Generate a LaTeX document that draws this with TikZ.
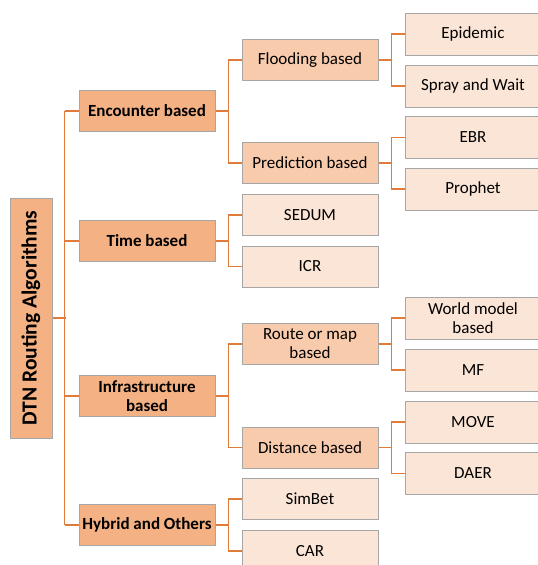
\documentclass[tikz,border=0pt]{standalone}
\usepackage{fontspec}
\setmainfont{Carlito}
\definecolor{lone}{HTML}{F4B183}
\definecolor{ltwo}{HTML}{F8CBAD}
\definecolor{lthree}{HTML}{FBE5D6}
\definecolor{bord}{HTML}{A6A6A6}
\definecolor{link}{HTML}{E07B39}
\begin{document}
\begin{tikzpicture}[x=1pt,y=-1pt,
  box/.style={draw=bord, line width=1pt, inner sep=2pt, align=center, text=black,
    font=\fontsize{17}{19}\selectfont},
  rootbox/.style={box, fill=lone, minimum width=240pt, minimum height=42pt, rotate=90,
    font=\fontsize{21.5}{23}\bfseries\selectfont},
  lonebox/.style={box, fill=lone, minimum width=136pt, minimum height=41pt,
    font=\fontsize{17}{19}\bfseries\selectfont},
  ltwobox/.style={box, fill=ltwo, minimum width=136pt, minimum height=41pt},
  lleaf/.style={box, fill=lthree, minimum width=136pt, minimum height=41pt},
  lthreebox/.style={box, fill=lthree, minimum width=136pt, minimum height=42pt},
  conn/.style={draw=link, line width=1.1pt}]
\useasboundingbox (0,0) rectangle (538,565);
\fill[white] (0,0) rectangle (538,565);
% root
\node[rootbox] (root) at (31,318) {DTN Routing Algorithms};
% level 1
\node[lonebox] (enc) at (147,111) {Encounter based};
\node[lonebox] (time) at (147,241) {Time based};
\node[lonebox] (infra) at (147,396) {Infrastructure\\based};
\node[lonebox] (hyb) at (147,525) {Hybrid and Others};
% level 2
\node[ltwobox] (flood) at (310,60) {Flooding based};
\node[ltwobox] (pred) at (310,163) {Prediction based};
\node[lleaf] (sedum) at (310,215) {SEDUM};
\node[lleaf] (icr) at (310,266.5) {ICR};
\node[ltwobox] (route) at (310,344) {Route or map\\based};
\node[ltwobox] (dist) at (310,447.5) {Distance based};
\node[lleaf] (simbet) at (310,499) {SimBet};
\node[lleaf] (car) at (310,551) {CAR};
% level 3
\node[lthreebox] (epi) at (473,34) {Epidemic};
\node[lthreebox] (spray) at (473,86) {Spray and Wait};
\node[lthreebox] (ebr) at (473,137.5) {EBR};
\node[lthreebox] (prophet) at (473,189) {Prophet};
\node[lthreebox] (world) at (473,318) {World model\\based};
\node[lthreebox] (mf) at (473,370) {MF};
\node[lthreebox] (move) at (473,422) {MOVE};
\node[lthreebox] (daer) at (473,473.5) {DAER};
% connectors root -> level 1
\draw[conn] (root.south) -- +(13,0);
\foreach \c in {enc,time,infra,hyb}
  \draw[conn] (\c.west) -- +(-14,0);
\draw[conn] ([xshift=-14pt]enc.west) -- ([xshift=-14pt]hyb.west);
% level 1 -> level 2
\foreach \p/\a/\b in {enc/flood/pred, time/sedum/icr, infra/route/dist, hyb/simbet/car}{
  \draw[conn] (\p.east) -- +(13,0) |- (\a.west);
  \draw[conn] (\p.east) -- +(13,0) |- (\b.west);
}
% level 2 -> level 3
\foreach \p/\a/\b in {flood/epi/spray, pred/ebr/prophet, route/world/mf, dist/move/daer}{
  \draw[conn] (\p.east) -- +(13,0) |- (\a.west);
  \draw[conn] (\p.east) -- +(13,0) |- (\b.west);
}
\end{tikzpicture}
\end{document}
